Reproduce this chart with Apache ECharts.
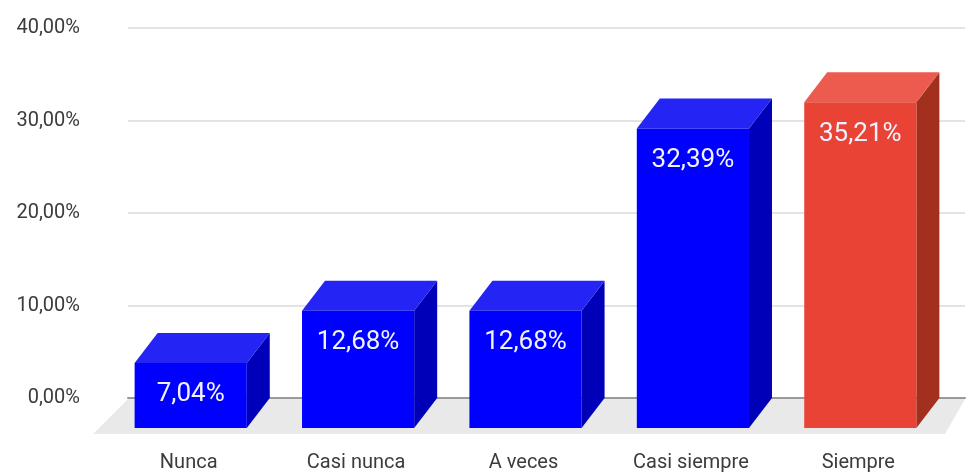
<!DOCTYPE html>
<html>
<head>
<meta charset="utf-8">
<script src="https://cdn.jsdelivr.net/npm/echarts@6/dist/echarts.min.js"></script>
<style>
html,body{margin:0;padding:0;background:#fff;}
#chart{width:970px;height:473px;}
</style>
</head>
<body>
<div id="chart"></div>
<script>
const categories = ['Nunca', 'Casi nunca', 'A veces', 'Casi siempre', 'Siempre'];
const values = [7.04, 12.68, 12.68, 32.39, 35.21];
const highlighted = [false, false, false, false, true];
const yTicks = [0, 10, 20, 30, 40];

const fmt = v => v.toFixed(2).replace('.', ',') + '%';
const palette = {
  blue: { front: '#0000ff', top: '#2424f5', side: '#0000b8' },
  red: { front: '#e94335', top: '#ec5b4e', side: '#a3301f' }
};
const DX = -23, DY = 30;

const chart = echarts.init(document.getElementById('chart'), null, { renderer: 'canvas' });

const option = {
  animation: false,
  backgroundColor: '#ffffff',
  grid: { left: 128, right: 5, top: 28, bottom: 75, containLabel: false },
  xAxis: {
    type: 'category',
    data: categories,
    axisLine: { show: true, lineStyle: { color: '#9a9a9a', width: 2 } },
    axisTick: { show: false },
    axisLabel: {
      color: '#3c3c3c', fontSize: 20, fontFamily: 'Roboto',
      margin: 55, padding: [0, 46, 0, 0]
    },
    splitLine: { show: false }
  },
  yAxis: {
    type: 'value',
    min: yTicks[0], max: yTicks[yTicks.length - 1], interval: 10,
    axisLine: { show: false },
    axisTick: { show: false },
    axisLabel: {
      color: '#3c3c3c', fontSize: 20, fontFamily: 'Roboto', margin: 48,
      formatter: v => fmt(v)
    },
    splitLine: { show: true, lineStyle: { color: '#e3e3e3', width: 2 } }
  },
  series: [
    {
      type: 'custom',
      z: 1,
      silent: true,
      data: [[0, 0]],
      encode: { x: 0, y: 1 },
      renderItem: function (params, api) {
        const band = api.size([1, 0])[0];
        const c0 = api.coord([0, 0]);
        const c4 = api.coord([categories.length - 1, 0]);
        const L = c0[0] - band / 2, R = c4[0] + band / 2, y = c0[1] + 1;
        return {
          type: 'polygon',
          shape: { points: [[L, y], [R, y], [R - 20, y + 35], [L - 35, y + 35]] },
          style: { fill: '#e9e9e9' }
        };
      }
    },
    {
      type: 'custom',
      z: 3,
      data: values.map((v, i) => [i, v]),
      encode: { x: 0, y: 1 },
      renderItem: function (params, api) {
        const i = api.value(0), v = api.value(1);
        const top = api.coord([i, v]);
        const base = api.coord([i, 0]);
        const band = api.size([1, 0])[0];
        const w = band * 0.67;
        const x0 = top[0] - w / 2 + 2, x1 = x0 + w;
        const ty = top[1], by = base[1];
        const col = highlighted[i] ? palette.red : palette.blue;
        return {
          type: 'group',
          children: [
            { type: 'polygon', shape: { points: [[x1 + DX, ty + DY], [x1, ty], [x1, by], [x1 + DX, by + DY]] }, style: { fill: col.side } },
            { type: 'polygon', shape: { points: [[x0 + DX, ty + DY], [x0, ty], [x1, ty], [x1 + DX, ty + DY]] }, style: { fill: col.top } },
            { type: 'rect', shape: { x: x0 + DX, y: ty + DY, width: w, height: by - ty }, style: { fill: col.front } },
            {
              type: 'text',
              style: {
                x: x0 + DX + w / 2, y: ty + DY + 32,
                text: fmt(values[i]), fill: '#f2f2ff',
                font: '26px Roboto', align: 'center', verticalAlign: 'middle'
              }
            }
          ]
        };
      }
    }
  ]
};
chart.setOption(option);
</script>
</body>
</html>
